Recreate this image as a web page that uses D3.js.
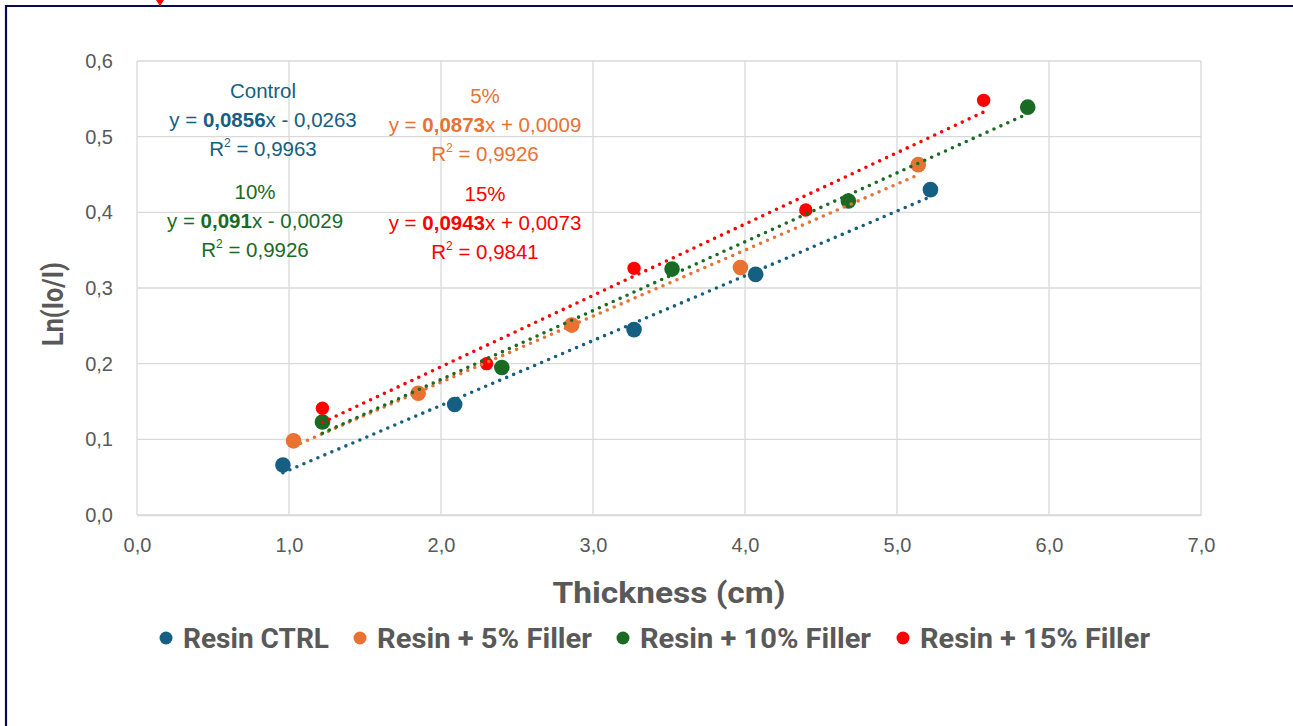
<!DOCTYPE html>
<html lang="en">
<head>
    <style>
        body { margin: 0; background: #fff; }
        svg { display: block; }
    </style>
</head>
<body>
    <svg width="1293" height="726"></svg>
    <script src="https://cdn.jsdelivr.net/npm/d3@7"></script>
    <script>
        // ---------------- Data ----------------
        const seriesNames = ["Resin CTRL", "Resin + 5% Filler", "Resin + 10% Filler", "Resin + 15% Filler"];
        const seriesColors = ["#156082", "#E97132", "#196B24", "#FF0000"];

        const ctrlX = [0.96, 2.09, 3.27, 4.07, 5.22];
        const ctrlY = [0.066, 0.146, 0.245, 0.318, 0.430];
        const f5X = [1.03, 1.85, 2.86, 3.97, 5.14];
        const f5Y = [0.098, 0.161, 0.251, 0.327, 0.463];
        const f10X = [1.22, 2.40, 3.52, 4.68, 5.86];
        const f10Y = [0.123, 0.195, 0.325, 0.415, 0.539];
        const f15X = [1.22, 2.30, 3.27, 4.40, 5.57];
        const f15Y = [0.141, 0.200, 0.326, 0.403, 0.548];

        // trendline coefficients (slope, intercept) from the chart labels
        const slopes = [0.0856, 0.0873, 0.091, 0.0943];
        const intercepts = [-0.0263, 0.0009, -0.0029, 0.0073];

        const labelTitles = ["Control", "5%", "10%", "15%"];
        const labelSlopes = ["0,0856", "0,0873", "0,091", "0,0943"];
        const labelRest = ["x - 0,0263", "x + 0,0009", "x - 0,0029", "x + 0,0073"];
        const labelR2 = ["0,9963", "0,9926", "0,9926", "0,9841"];

        const xTicks = [0, 1, 2, 3, 4, 5, 6, 7];
        const yTicks = [0, 0.1, 0.2, 0.3, 0.4, 0.5, 0.6];

        const allX = [ctrlX, f5X, f10X, f15X];
        const allY = [ctrlY, f5Y, f10Y, f15Y];
        const series = seriesNames.map((name, i) => ({
            name: name,
            color: seriesColors[i],
            points: allX[i].map((x, j) => ({ x: x, y: allY[i][j] })),
            slope: slopes[i],
            intercept: intercepts[i]
        }));

        // ---------------- Layout ----------------
        const svg = d3.select("svg");
        const plotLeft = 137, plotRight = 1201, plotTop = 61, plotBottom = 515;
        const xScale = d3.scaleLinear().domain([0, 7]).range([plotLeft, plotRight]);
        const yScale = d3.scaleLinear().domain([0, 0.6]).range([plotBottom, plotTop]);
        const fmt = v => d3.format(".1f")(v).replace(".", ",");
        const grey = "#595959";

        // Outer frame (top and left edges visible)
        svg.append("path")
            .attr("d", "M 6 726 L 6 6 L 1293 6")
            .attr("fill", "none").attr("stroke", "#0B0B45").attr("stroke-width", 2.2);
        // little red marker at the top edge
        svg.append("path")
            .attr("d", "M 156 0 L 164 0 L 160 6 Z")
            .attr("fill", "#FF0000");

        // Gridlines
        const grid = svg.append("g");
        grid.selectAll(".gx").data(xTicks).enter().append("line")
            .attr("x1", d => xScale(d)).attr("x2", d => xScale(d))
            .attr("y1", plotTop).attr("y2", plotBottom)
            .attr("stroke", "#D9D9D9").attr("stroke-width", 1.3);
        grid.selectAll(".gy").data(yTicks).enter().append("line")
            .attr("x1", plotLeft).attr("x2", plotRight)
            .attr("y1", d => yScale(d)).attr("y2", d => yScale(d))
            .attr("stroke", "#D9D9D9").attr("stroke-width", 1.3);

        // Axes (labels only, Excel style)
        const tickFont = "20px 'Liberation Sans', Arial, sans-serif";
        const xAxis = svg.append("g")
            .attr("transform", `translate(0, ${plotBottom})`)
            .call(d3.axisBottom(xScale).tickValues(xTicks).tickFormat(fmt).tickSize(0).tickPadding(23));
        xAxis.select(".domain").attr("stroke", "#D9D9D9").attr("stroke-width", 1.3);
        xAxis.selectAll("text").attr("fill", grey).style("font", tickFont);

        const yAxis = svg.append("g")
            .attr("transform", `translate(${plotLeft}, 0)`)
            .call(d3.axisLeft(yScale).tickValues(yTicks).tickFormat(fmt).tickSize(0).tickPadding(24));
        yAxis.select(".domain").remove();
        yAxis.selectAll("text").attr("fill", grey).style("font", tickFont);

        // Axis titles
        svg.append("text")
            .attr("x", (plotLeft + plotRight) / 2).attr("y", 603)
            .attr("text-anchor", "middle")
            .attr("fill", grey)
            .attr("textLength", 233).attr("lengthAdjust", "spacingAndGlyphs")
            .style("font", "bold 30px Roboto, sans-serif")
            .text("Thickness (cm)");
        svg.append("text")
            .attr("transform", "translate(63, 304) rotate(-90)")
            .attr("text-anchor", "middle")
            .attr("fill", grey)
            .attr("textLength", 84).attr("lengthAdjust", "spacingAndGlyphs")
            .style("font", "bold 30px Roboto, sans-serif")
            .text("Ln(Io/I)");

        // Markers
        const marks = svg.append("g");
        series.forEach((s, i) => {
            marks.selectAll(null).data(s.points).enter().append("circle")
                .attr("cx", d => xScale(d.x)).attr("cy", d => yScale(d.y))
                .attr("r", i === 3 ? 6.7 : 7.8)
                .attr("fill", s.color);
        });

        // Dotted trendlines over the fitted range
        const trends = svg.append("g");
        series.forEach(s => {
            const x0 = d3.min(s.points, d => d.x), x1 = d3.max(s.points, d => d.x);
            trends.append("line")
                .attr("x1", xScale(x0)).attr("y1", yScale(s.slope * x0 + s.intercept))
                .attr("x2", xScale(x1)).attr("y2", yScale(s.slope * x1 + s.intercept))
                .attr("stroke", s.color).attr("stroke-width", 3.6)
                .attr("stroke-linecap", "round")
                .attr("stroke-dasharray", "0 7.6");
        });

        // Trendline equation labels
        const labelPos = [[263, 98], [485, 103], [255, 199], [485, 201]];
        const labels = svg.append("g").style("font", "20.5px 'Liberation Sans', Arial, sans-serif");
        series.forEach((s, i) => {
            const [cx, cy] = labelPos[i];
            const g = labels.append("g").attr("fill", s.color).attr("text-anchor", "middle");
            g.append("text").attr("x", cx).attr("y", cy).text(labelTitles[i]);
            const eq = g.append("text").attr("x", cx).attr("y", cy + 29);
            eq.append("tspan").text("y = ");
            eq.append("tspan").attr("font-weight", "bold").text(labelSlopes[i]);
            eq.append("tspan").text(labelRest[i]);
            const r2 = g.append("text").attr("x", cx).attr("y", cy + 58);
            r2.append("tspan").text("R");
            r2.append("tspan").attr("dy", -9).style("font-size", "12px").text("2");
            r2.append("tspan").attr("dy", 9).text(" = " + labelR2[i]);
        });

        // Legend
        const legendX = [166, 360, 623, 903];
        const legendW = [146, 215, 231, 230];
        const legend = svg.append("g");
        series.forEach((s, i) => {
            legend.append("circle")
                .attr("cx", legendX[i]).attr("cy", 638).attr("r", 6.5).attr("fill", s.color);
            legend.append("text")
                .attr("x", legendX[i] + 17).attr("y", 648)
                .attr("fill", grey)
                .attr("textLength", legendW[i]).attr("lengthAdjust", "spacingAndGlyphs")
                .style("font", "bold 27px Roboto, sans-serif")
                .text(s.name);
        });
    </script>
</body>
</html>
